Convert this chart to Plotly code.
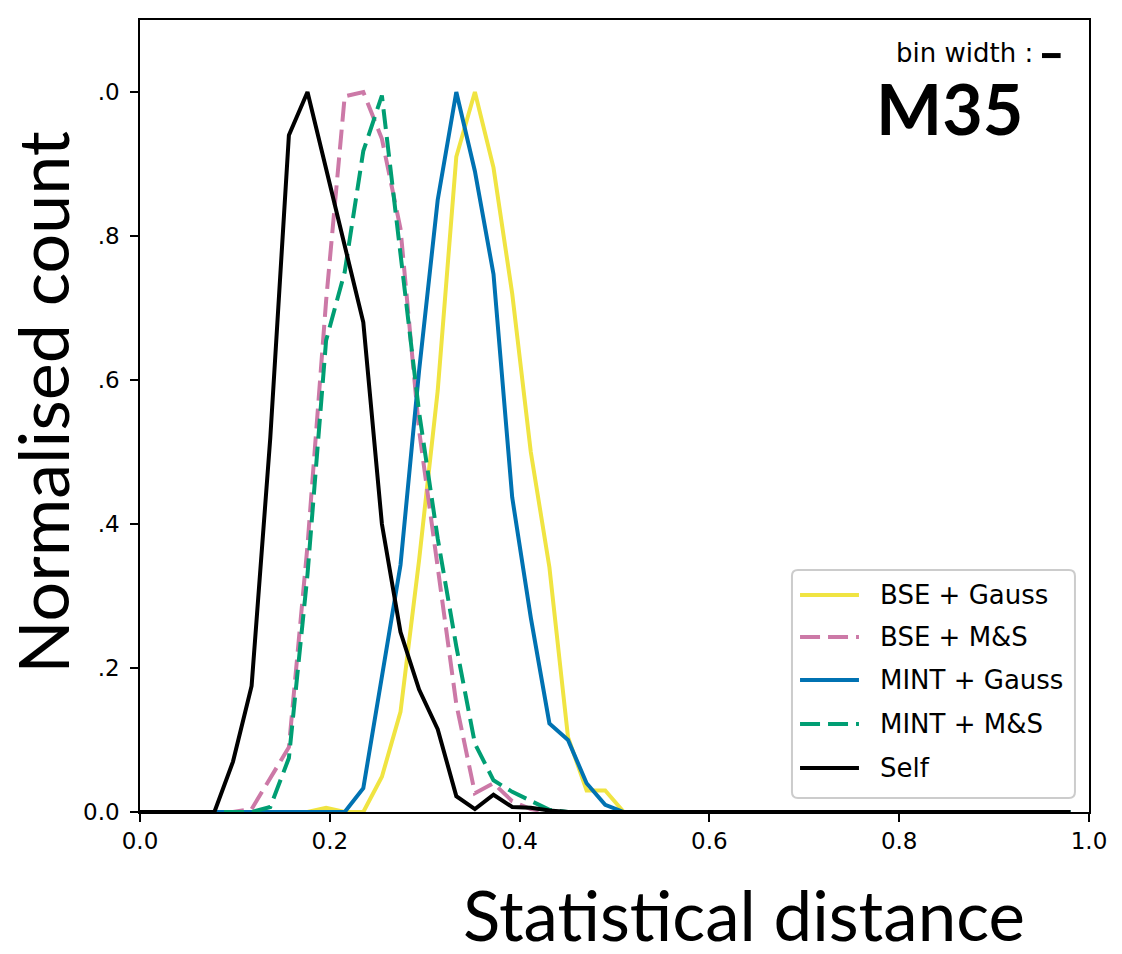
import plotly.graph_objects as go

# ---- data (bin centres and normalised counts) ----
distance = [0.0000, 0.0196, 0.0392, 0.0588, 0.0784, 0.0980, 0.1176, 0.1373, 0.1569, 0.1765,
            0.1961, 0.2157, 0.2353, 0.2549, 0.2745, 0.2941, 0.3137, 0.3333, 0.3529, 0.3725,
            0.3922, 0.4118, 0.4314, 0.4510, 0.4706, 0.4902, 0.5098, 0.5294, 0.5490, 0.5686,
            0.5882, 0.6078, 0.6275, 0.6471, 0.6667, 0.6863, 0.7059, 0.7255, 0.7451, 0.7647,
            0.7843, 0.8039, 0.8235, 0.8431, 0.8627, 0.8824, 0.9020, 0.9216, 0.9412, 0.9608,
            0.9804]

bse_gauss = [0, 0, 0, 0, 0, 0, 0, 0, 0, 0,
             0.006, 0, 0, 0.049, 0.139, 0.35, 0.585, 0.91, 1.0, 0.895,
             0.72, 0.50, 0.34, 0.104, 0.03, 0.03, 0, 0, 0, 0,
             0, 0, 0, 0, 0, 0, 0, 0, 0, 0,
             0, 0, 0, 0, 0, 0, 0, 0, 0, 0,
             0]

bse_ms = [0, 0, 0, 0, 0, 0, 0.004, 0.047, 0.09, 0.37,
          0.71, 0.994, 1.0, 0.935, 0.81, 0.53, 0.34, 0.15, 0.026, 0.04,
          0.015, 0.004, 0, 0, 0, 0, 0, 0, 0, 0,
          0, 0, 0, 0, 0, 0, 0, 0, 0, 0,
          0, 0, 0, 0, 0, 0, 0, 0, 0, 0,
          0]

mint_gauss = [0, 0, 0, 0, 0, 0, 0, 0, 0, 0,
              0, 0, 0.033, 0.185, 0.343, 0.613, 0.85, 1.0, 0.89, 0.747,
              0.437, 0.27, 0.123, 0.10, 0.04, 0.01, 0, 0, 0, 0,
              0, 0, 0, 0, 0, 0, 0, 0, 0, 0,
              0, 0, 0, 0, 0, 0, 0, 0, 0, 0,
              0]

mint_ms = [0, 0, 0, 0, 0, 0, 0, 0.007, 0.075, 0.33,
           0.655, 0.75, 0.918, 0.995, 0.78, 0.555, 0.38, 0.23, 0.095, 0.044,
           0.028, 0.015, 0.003, 0, 0, 0, 0, 0, 0, 0,
           0, 0, 0, 0, 0, 0, 0, 0, 0, 0,
           0, 0, 0, 0, 0, 0, 0, 0, 0, 0,
           0]

self_dist = [0, 0, 0, 0, 0, 0.07, 0.175, 0.52, 0.94, 1.0,
             0.895, 0.79, 0.68, 0.40, 0.25, 0.17, 0.115, 0.022, 0.004, 0.024,
             0.007, 0.006, 0.002, 0, 0, 0, 0, 0, 0, 0,
             0, 0, 0, 0, 0, 0, 0, 0, 0, 0,
             0, 0, 0, 0, 0, 0, 0, 0, 0, 0,
             0]

series_names = ["BSE + Gauss", "BSE + M&S", "MINT + Gauss", "MINT + M&S", "Self"]
x_ticks = [0.0, 0.2, 0.4, 0.6, 0.8, 1.0]
x_tick_labels = ["0.0", "0.2", "0.4", "0.6", "0.8", "1.0"]
y_ticks = [0.0, 0.2, 0.4, 0.6, 0.8, 1.0]
y_tick_labels = ["0.0", ".2", ".4", ".6", ".8", ".0"]
bin_width = 0.0196
bin_bar_start = 0.9505
bin_bar_y = 1.0506
cluster_name = "M35"

# ---- styles ----
colors = ["#F0E442", "#CC79A7", "#0072B2", "#009E73", "#000000"]
dashes = ["solid", "20px,8px", "solid", "20px,8px", "solid"]
values = [bse_gauss, bse_ms, mint_gauss, mint_ms, self_dist]
LW = 4

fig = go.Figure()
for name, vals, col, dsh in zip(series_names, values, colors, dashes):
    fig.add_trace(go.Scatter(
        x=distance, y=vals, mode="lines", name=name,
        line=dict(color=col, width=LW, dash=dsh),
        showlegend=False,
    ))

tick_font = dict(family="DejaVu Sans", size=23, color="black")

fig.update_layout(
    width=1122, height=954,
    margin=dict(l=140, r=33, t=20, b=142),
    paper_bgcolor="white", plot_bgcolor="white",
    showlegend=False,
    xaxis=dict(
        range=[0, 1], tickvals=x_ticks, ticktext=x_tick_labels,
        showline=True, linecolor="black", linewidth=1.5, mirror=True,
        ticks="outside", ticklen=8, tickwidth=1.5, tickcolor="black",
        showgrid=False, zeroline=False, tickfont=tick_font,
    ),
    yaxis=dict(
        range=[0, 1.1], tickvals=y_ticks, ticktext=y_tick_labels,
        showline=True, linecolor="black", linewidth=1.5, mirror=True,
        ticks="outside", ticklen=8, tickwidth=1.5, tickcolor="black",
        showgrid=False, zeroline=False, tickfont=tick_font,
        ticklabelstandoff=6,
    ),
)

# ---- legend box (drawn in paper coordinates, matplotlib-style) ----
bx0, bx1, by0, by1 = 0.6870, 0.9852, 0.0177, 0.3056
rx, ry = 0.0063, 0.0076
box_path = (
    f"M {bx0 + rx},{by0} L {bx1 - rx},{by0} Q {bx1},{by0} {bx1},{by0 + ry} "
    f"L {bx1},{by1 - ry} Q {bx1},{by1} {bx1 - rx},{by1} "
    f"L {bx0 + rx},{by1} Q {bx0},{by1} {bx0},{by1 - ry} "
    f"L {bx0},{by0 + ry} Q {bx0},{by0} {bx0 + rx},{by0} Z"
)
fig.add_shape(type="path", xref="paper", yref="paper", path=box_path,
              fillcolor="white", line=dict(color="#cccccc", width=2))
row_y = [0.2740, 0.2210, 0.1667, 0.1111, 0.0556]
for name, col, dsh, yy in zip(series_names, colors, dashes, row_y):
    fig.add_shape(type="line", xref="paper", yref="paper",
                  x0=0.6955, x1=0.7576, y0=yy, y1=yy,
                  line=dict(color=col, width=LW, dash=dsh))
    fig.add_annotation(text=name, xref="paper", yref="paper",
                       x=0.7777, y=yy, xanchor="left", yanchor="middle",
                       showarrow=False,
                       font=dict(family="DejaVu Sans", size=26, color="black"))

# axis titles as annotations, placed like the reference
fig.add_annotation(
    text="Normalised count", xref="paper", yref="paper",
    x=-0.104, y=0.517, xanchor="center", yanchor="middle",
    textangle=-90, showarrow=False,
    font=dict(family="Lato", size=70, color="black"),
)
fig.add_annotation(
    text="Statistical distance", xref="paper", yref="paper",
    x=0.6365, y=-0.1285, xanchor="center", yanchor="middle",
    height=62, showarrow=False,
    font=dict(family="Lato", size=69, color="black"),
)
fig.add_annotation(
    text="<b>" + cluster_name + "</b>", xref="paper", yref="paper",
    x=0.933, y=0.889, xanchor="right", yanchor="middle",
    height=64, showarrow=False,
    font=dict(family="Lato", size=70, color="black"),
)
fig.add_annotation(
    text="bin width :", xref="paper", yref="paper",
    x=0.943, y=0.958, xanchor="right", yanchor="middle",
    height=28, showarrow=False,
    font=dict(family="DejaVu Sans", size=26, color="black"),
)
fig.add_shape(
    type="line", xref="x", yref="y",
    x0=bin_bar_start, x1=bin_bar_start + bin_width, y0=bin_bar_y, y1=bin_bar_y,
    line=dict(color="black", width=5),
)

fig.write_html("out.html")
